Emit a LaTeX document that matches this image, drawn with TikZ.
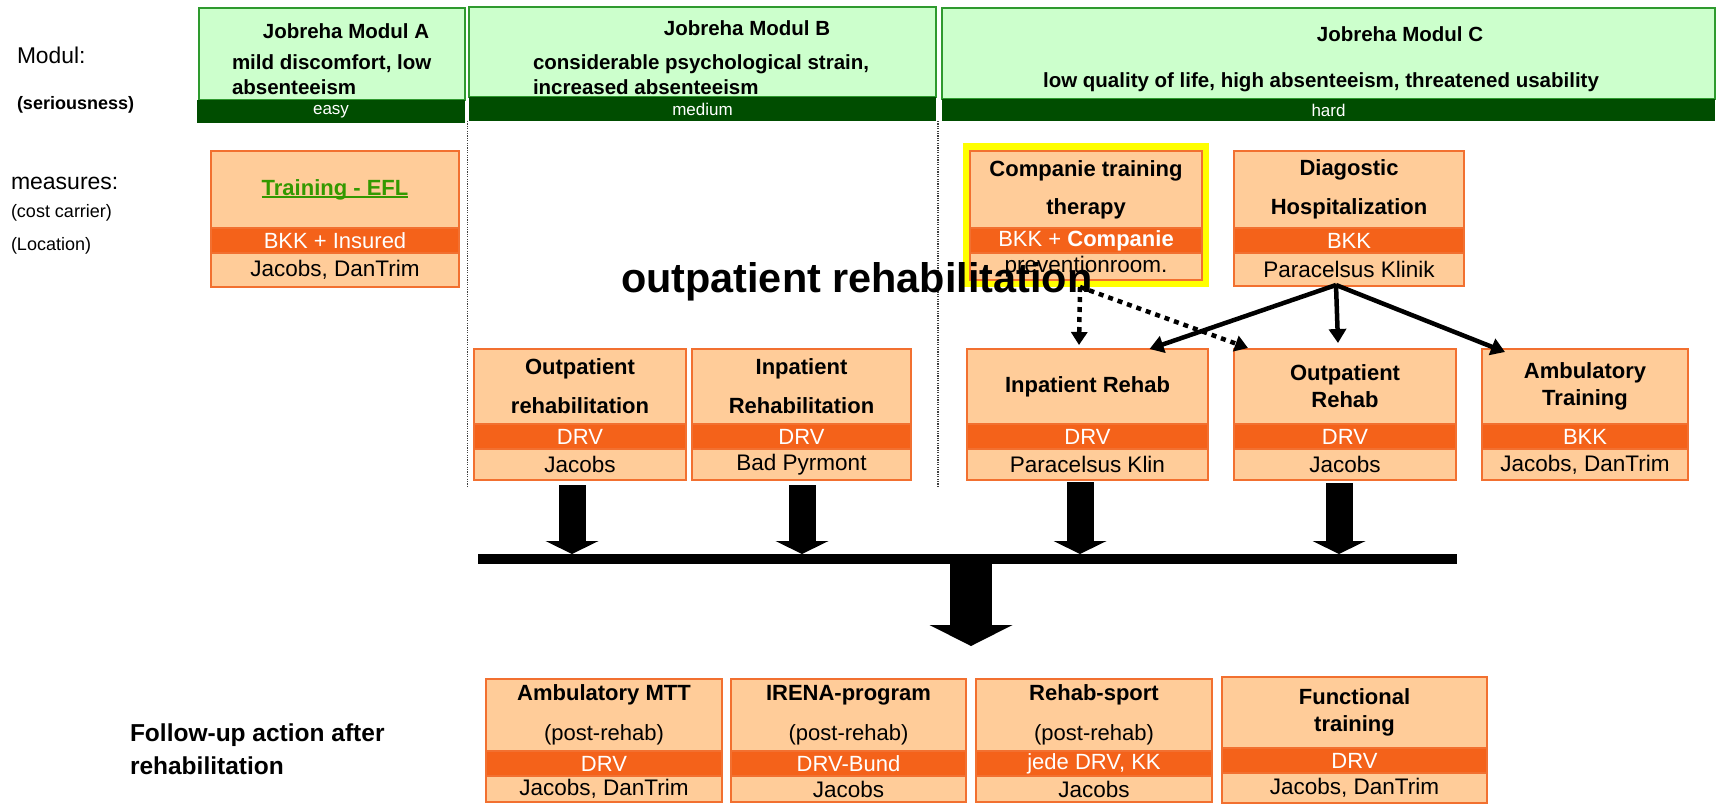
\documentclass[tikz,border=0pt]{standalone}
\usepackage{fontspec}
\setmainfont{Liberation Sans}
\usetikzlibrary{arrows.meta,calc}
\definecolor{lor}{HTML}{FFCC99}
\definecolor{dor}{HTML}{F4621A}
\definecolor{bor}{HTML}{F27030}
\definecolor{lgr}{HTML}{CCFFCC}
\definecolor{bgr}{HTML}{2E9A2E}
\definecolor{dgr}{HTML}{004D00}
\definecolor{efl}{HTML}{339900}
\definecolor{hly}{HTML}{FFFF00}
\newcommand\ulx[1]{\setbox0\hbox{#1}\rlap{\rule[-2.5pt]{\wd0}{1.6pt}}\box0}
\tikzset{
  every node/.style={inner sep=0pt, outer sep=0pt},
  rtop/.style={draw=bor, fill=lor, line width=1.5pt, align=center, font=\fontsize{22}{27}\selectfont\bfseries},
  rband/.style={draw=bor, fill=dor, line width=1.5pt, text=white, font=\fontsize{22}{27}\selectfont},
  rbot/.style={draw=bor, fill=lor, line width=1.5pt, font=\fontsize{22.5}{27}\selectfont},
  gbox/.style={draw=bgr, fill=lgr, line width=2pt},
  gband/.style={fill=dgr, text=white, font=\fontsize{17}{20}\selectfont},
  hdr/.style={font=\fontsize{20.5}{25}\selectfont\bfseries},
  sarrow/.style={line width=4.5pt, -{Triangle[length=14pt,width=17pt]}},
  darrow/.style={line width=4.5pt, dash pattern=on 5pt off 5pt, -{Triangle[length=13pt,width=16pt]}},
  blk/.style={line width=27pt, -{Triangle[length=13pt,width=53pt,line width=0pt]}},
  bigblk/.style={line width=42pt, -{Triangle[length=21pt,width=83pt,line width=0pt]}},
  dotsep/.style={line width=1.2pt, dash pattern=on 1.2pt off 1.2pt, black!75}
}
% #1 name, #2 x1, #3 x2, #4 y top, #5 y band top, #6 title, #7 carrier, #8 location, #9 y bottom
\newcommand\rbox[9]{%
  \pgfmathsetmacro\bw{#3-#2}%
  \pgfmathsetmacro\th{#5-#4}%
  \pgfmathsetmacro\lh{#9-#5-25}%
  \node[rtop, minimum width=\bw pt, minimum height=\th pt, anchor=north west] (#1-t) at (#2,#4) {#6};
  \node[rband, minimum width=\bw pt, minimum height=25pt, anchor=north west] (#1-c) at (#2,#5) {#7};
  \node[rbot, minimum width=\bw pt, minimum height=\lh pt, anchor=north west] (#1-l) at (#2,#5+25) {#8};
}
\begin{document}
\begin{tikzpicture}[x=1pt,y=-1pt]
\useasboundingbox (0,0) rectangle (1718,804);
% left labels
\node[anchor=west, font=\fontsize{22.8}{27}\selectfont] (lmodul) at (17,55) {Modul:};
\node[anchor=west, font=\fontsize{18}{22}\selectfont\bfseries] (lser) at (17,105) {(seriousness)};
\node[anchor=west, font=\fontsize{23}{27}\selectfont] (lmeas) at (11,183) {measures:};
\node[anchor=west, font=\fontsize{18}{22}\selectfont] (lcost) at (11,213) {(cost carrier)};
\node[anchor=west, font=\fontsize{18}{22}\selectfont] (lloc) at (11,246) {(Location)};
\node[anchor=west, align=left, font=\fontsize{24.5}{33}\selectfont\bfseries] (lfol) at (130,749) {Follow-up action after\\rehabilitation};
% module headers
\node[gbox, minimum width=266pt, minimum height=92pt, anchor=north west] (modA) at (199,8) {};
\node[gband, minimum width=268pt, minimum height=23pt, anchor=north west] (bandA) at (197,100) {easy};
\node[gbox, minimum width=467pt, minimum height=90pt, anchor=north west] (modB) at (469,7) {};
\node[gband, minimum width=467pt, minimum height=24pt, anchor=north west] (bandB) at (469,97) {medium};
\node[gbox, minimum width=773pt, minimum height=91pt, anchor=north west] (modC) at (942,8) {};
\node[gband, minimum width=773pt, minimum height=22pt, anchor=north west] (bandC) at (942,99) {hard};
\node[hdr] (hA) at (346,31) {Jobreha Modul A};
\node[hdr, anchor=west, align=left] (dA) at (232,75) {mild discomfort, low\\absenteeism};
\node[hdr] (hB) at (747,28) {Jobreha Modul B};
\node[hdr, anchor=west, align=left] (dB) at (533,74.5) {considerable psychological strain,\\increased absenteeism};
\node[hdr] (hC) at (1400,34) {Jobreha Modul C};
\node[hdr] (dC) at (1321,82) {low quality of life, high absenteeism, threatened usability};
% separators
\draw[dotsep] (467.5,121) -- (467.5,487);
\draw[dotsep] (938,121) -- (938,487);
% top measures
\rbox{efl}{211}{459}{151}{228}{\textcolor{efl}{\ulx{Training - EFL}}}{BKK + Insured}{Jacobs, DanTrim}{287}
\node[fill=hly, minimum width=246pt, minimum height=144pt, anchor=north west] (hl) at (963,143) {};
\rbox{comp}{970}{1202}{151}{228}{Companie training\\[11pt]therapy}{BKK + \textbf{Companie}}{preventionroom.}{280}
\rbox{diag}{1234}{1464}{151}{228}{Diagostic\\[12pt]Hospitalization}{BKK}{Paracelsus Klinik}{286}
% middle row
\rbox{orh}{474}{686}{349}{424}{Outpatient\\[12pt]rehabilitation}{DRV}{Jacobs}{480}
\rbox{irh}{692}{911}{349}{424}{Inpatient\\[12pt]Rehabilitation}{DRV}{Bad Pyrmont}{480}
\rbox{inrc}{967}{1208}{349}{424}{Inpatient Rehab}{DRV}{Paracelsus Klin}{480}
\rbox{outrc}{1234}{1456}{349}{424}{Outpatient\\Rehab}{DRV}{Jacobs}{480}
\rbox{amb}{1482}{1688}{349}{424}{Ambulatory\\Training}{BKK}{Jacobs, DanTrim}{480}
% bottom row
\rbox{mtt}{486}{722}{679}{751}{Ambulatory MTT\\[13pt]{\mdseries (post-rehab)}}{DRV}{Jacobs, DanTrim}{802}
\rbox{irena}{731}{966}{679}{751}{IRENA-program\\[13pt]{\mdseries (post-rehab)}}{DRV-Bund}{Jacobs}{802}
\rbox{rsport}{976}{1212}{679}{751}{Rehab-sport\\[13pt]{\mdseries (post-rehab)}}{jede DRV, KK}{Jacobs}{802}
\rbox{func}{1222}{1487}{677}{748}{Functional\\training}{DRV}{Jacobs, DanTrim}{803}
% solid arrows from diagnostic
\coordinate (dsrc) at ($(diag-l.south)+(-13,-1)$);
\draw[sarrow] (dsrc) -- ([xshift=62pt]inrc-t.north);
\draw[sarrow] (dsrc) -- ([xshift=-7pt,yshift=6pt]outrc-t.north);
\draw[sarrow] (dsrc) -- ([xshift=23pt,yshift=-3pt]amb-t.north west);
% bar and block arrows
\node[fill=black, minimum width=979pt, minimum height=10pt, anchor=north west] (bar) at (478,554) {};
\draw[blk] ($(orh-l.south)+(-8,5)$) -- ($(orh-l.south |- bar.north)+(-8,0)$);
\draw[blk] ($(irh-l.south)+(0.5,5)$) -- ($(irh-l.south |- bar.north)+(0.5,0)$);
\draw[blk] ($(inrc-l.south)+(-7.5,2)$) -- ($(inrc-l.south |- bar.north)+(-7.5,0)$);
\draw[blk] ($(outrc-l.south)+(-6,3)$) -- ($(outrc-l.south |- bar.north)+(-6,0)$);
\draw[bigblk] ($(bar.south)+(3.5,0)$) -- ($(bar.south)+(3.5,82)$);
% big label
\node[anchor=base west, font=\fontsize{41.4}{48}\selectfont\bfseries] (bigt) at (621,292) {outpatient rehabilitation};
% dotted arrows from companie
\coordinate (csrc) at ($(hl.south)+(-6,0)$);
\draw[darrow] (csrc) -- ([xshift=-8.5pt,yshift=4pt]inrc-t.north);
\draw[darrow] (csrc) -- ([xshift=14pt,yshift=1pt]outrc-t.north west);
\end{tikzpicture}
\end{document}
